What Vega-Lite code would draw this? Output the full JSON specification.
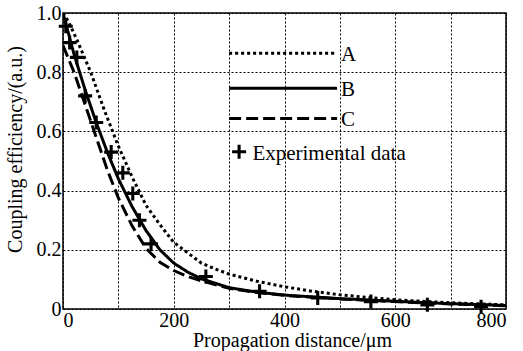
{
  "$schema": "https://vega.github.io/schema/vega-lite/v6.json",
  "width": 443,
  "height": 296,
  "autosize": {"type": "none"},
  "padding": {"left": 63, "top": 13, "right": 17, "bottom": 42},
  "background": "white",
  "config": {
    "font": "Liberation Serif",
    "view": {"stroke": "black", "strokeWidth": 1.5},
    "axis": {
      "labelFont": "Liberation Serif",
      "titleFont": "Liberation Serif",
      "labelFontSize": 20,
      "titleFontSize": 20,
      "titleFontWeight": "normal",
      "labelColor": "black",
      "titleColor": "black",
      "ticks": false,
      "tickSize": 0,
      "domain": false,
      "grid": true,
      "gridColor": "black",
      "gridDash": [2, 2],
      "gridWidth": 1,
      "gridOpacity": 1
    }
  },
  "datasets": {
    "curves": [
      {"series": "A", "x": 0, "y": 1.0}, {"series": "A", "x": 10, "y": 0.97}, {"series": "A", "x": 25, "y": 0.91},
      {"series": "A", "x": 50, "y": 0.80}, {"series": "A", "x": 75, "y": 0.67}, {"series": "A", "x": 100, "y": 0.55},
      {"series": "A", "x": 125, "y": 0.445}, {"series": "A", "x": 150, "y": 0.35}, {"series": "A", "x": 175, "y": 0.285},
      {"series": "A", "x": 200, "y": 0.225}, {"series": "A", "x": 225, "y": 0.19}, {"series": "A", "x": 250, "y": 0.155},
      {"series": "A", "x": 275, "y": 0.135}, {"series": "A", "x": 300, "y": 0.118}, {"series": "A", "x": 350, "y": 0.094},
      {"series": "A", "x": 400, "y": 0.075}, {"series": "A", "x": 450, "y": 0.06}, {"series": "A", "x": 500, "y": 0.048},
      {"series": "A", "x": 550, "y": 0.039}, {"series": "A", "x": 600, "y": 0.031}, {"series": "A", "x": 700, "y": 0.021},
      {"series": "A", "x": 800, "y": 0.014},
      {"series": "B", "x": 0, "y": 1.0}, {"series": "B", "x": 10, "y": 0.93}, {"series": "B", "x": 20, "y": 0.86},
      {"series": "B", "x": 40, "y": 0.74}, {"series": "B", "x": 60, "y": 0.63}, {"series": "B", "x": 80, "y": 0.53},
      {"series": "B", "x": 100, "y": 0.44}, {"series": "B", "x": 125, "y": 0.345}, {"series": "B", "x": 150, "y": 0.265},
      {"series": "B", "x": 175, "y": 0.2}, {"series": "B", "x": 200, "y": 0.155}, {"series": "B", "x": 225, "y": 0.125},
      {"series": "B", "x": 250, "y": 0.102}, {"series": "B", "x": 300, "y": 0.072}, {"series": "B", "x": 350, "y": 0.057},
      {"series": "B", "x": 400, "y": 0.047}, {"series": "B", "x": 500, "y": 0.035}, {"series": "B", "x": 600, "y": 0.026},
      {"series": "B", "x": 700, "y": 0.018}, {"series": "B", "x": 800, "y": 0.012},
      {"series": "C", "x": 0, "y": 0.89}, {"series": "C", "x": 20, "y": 0.80}, {"series": "C", "x": 40, "y": 0.69},
      {"series": "C", "x": 60, "y": 0.58}, {"series": "C", "x": 80, "y": 0.47}, {"series": "C", "x": 100, "y": 0.375},
      {"series": "C", "x": 125, "y": 0.28}, {"series": "C", "x": 150, "y": 0.205}, {"series": "C", "x": 175, "y": 0.158},
      {"series": "C", "x": 200, "y": 0.13}, {"series": "C", "x": 225, "y": 0.11}, {"series": "C", "x": 250, "y": 0.095},
      {"series": "C", "x": 300, "y": 0.07}, {"series": "C", "x": 350, "y": 0.056}, {"series": "C", "x": 400, "y": 0.046},
      {"series": "C", "x": 500, "y": 0.034}, {"series": "C", "x": 600, "y": 0.025}, {"series": "C", "x": 700, "y": 0.017},
      {"series": "C", "x": 800, "y": 0.011}
    ],
    "experimental": [
      {"x": 5, "y": 0.955}, {"x": 12, "y": 0.90}, {"x": 25, "y": 0.85}, {"x": 40, "y": 0.72},
      {"x": 60, "y": 0.63}, {"x": 87, "y": 0.53}, {"x": 108, "y": 0.46}, {"x": 126, "y": 0.39},
      {"x": 138, "y": 0.30}, {"x": 159, "y": 0.22}, {"x": 258, "y": 0.11}, {"x": 355, "y": 0.06},
      {"x": 460, "y": 0.037}, {"x": 556, "y": 0.025}, {"x": 658, "y": 0.014}, {"x": 755, "y": 0.008}
    ],
    "legendLines": [
      {"series": "A", "x": 300, "x2": 495, "y": 0.864, "label": "A"},
      {"series": "B", "x": 300, "x2": 495, "y": 0.746, "label": "B"},
      {"series": "C", "x": 300, "x2": 495, "y": 0.644, "label": "C"}
    ],
    "legendExp": [
      {"x": 318, "y": 0.531, "tx": 342, "label": "Experimental data"}
    ]
  },
  "layer": [
    {
      "data": {"name": "curves"},
      "mark": {"type": "line", "color": "black", "strokeWidth": 3, "clip": true},
      "encoding": {
        "x": {
          "field": "x", "type": "quantitative",
          "scale": {"domain": [0, 800], "nice": false},
          "axis": {
            "title": "Propagation distance/μm",
            "values": [0, 100, 200, 300, 400, 500, 600, 700, 800],
            "labelExpr": "datum.value % 200 == 0 ? datum.label : ''",
            "labelPadding": 1,
            "titleX": 229,
            "titleY": 37,
            "titleBaseline": "alphabetic",
            "titleAlign": "center"
          }
        },
        "y": {
          "field": "y", "type": "quantitative",
          "scale": {"domain": [0, 1], "nice": false},
          "axis": {
            "title": "Coupling efficiency/(a.u.)",
            "values": [0, 0.1, 0.2, 0.3, 0.4, 0.5, 0.6, 0.7, 0.8, 0.9, 1.0],
            "labelExpr": "datum.value == 0 ? '0' : (round(datum.value * 10) % 2 == 0 ? format(datum.value, '.1f') : '')",
            "labelPadding": 2,
            "titleX": -42,
            "titleY": 136,
            "titleBaseline": "alphabetic",
            "titleAlign": "center"
          }
        },
        "strokeDash": {
          "field": "series", "type": "nominal",
          "scale": {"domain": ["A", "B", "C"], "range": [[3, 3], [1, 0], [12, 5]]},
          "legend": null
        },
        "detail": {"field": "series"}
      }
    },
    {
      "data": {"name": "experimental"},
      "mark": {
        "type": "point",
        "filled": true,
        "color": "black",
        "opacity": 1,
        "size": 196,
        "shape": "M-1,-0.22H1V0.22H-1Z M-0.22,-1H0.22V1H-0.22Z"
      },
      "encoding": {
        "x": {"field": "x", "type": "quantitative"},
        "y": {"field": "y", "type": "quantitative"}
      }
    },
    {
      "data": {"name": "legendLines"},
      "mark": {"type": "rule", "color": "black", "strokeWidth": 3},
      "encoding": {
        "x": {"field": "x", "type": "quantitative"},
        "x2": {"field": "x2"},
        "y": {"field": "y", "type": "quantitative"},
        "strokeDash": {"field": "series", "type": "nominal", "legend": null}
      }
    },
    {
      "data": {"name": "legendLines"},
      "mark": {"type": "text", "align": "left", "baseline": "middle", "dx": 4, "dy": 2, "fontSize": 21, "font": "Liberation Serif", "color": "black"},
      "encoding": {
        "x": {"field": "x2", "type": "quantitative"},
        "y": {"field": "y", "type": "quantitative"},
        "text": {"field": "label"}
      }
    },
    {
      "data": {"name": "legendExp"},
      "mark": {
        "type": "point",
        "filled": true,
        "color": "black",
        "opacity": 1,
        "size": 196,
        "shape": "M-1,-0.22H1V0.22H-1Z M-0.22,-1H0.22V1H-0.22Z"
      },
      "encoding": {
        "x": {"field": "x", "type": "quantitative"},
        "y": {"field": "y", "type": "quantitative"}
      }
    },
    {
      "data": {"name": "legendExp"},
      "mark": {"type": "text", "align": "left", "baseline": "middle", "dy": 2, "fontSize": 21, "font": "Liberation Serif", "color": "black"},
      "encoding": {
        "x": {"field": "tx", "type": "quantitative"},
        "y": {"field": "y", "type": "quantitative"},
        "text": {"field": "label"}
      }
    }
  ]
}
